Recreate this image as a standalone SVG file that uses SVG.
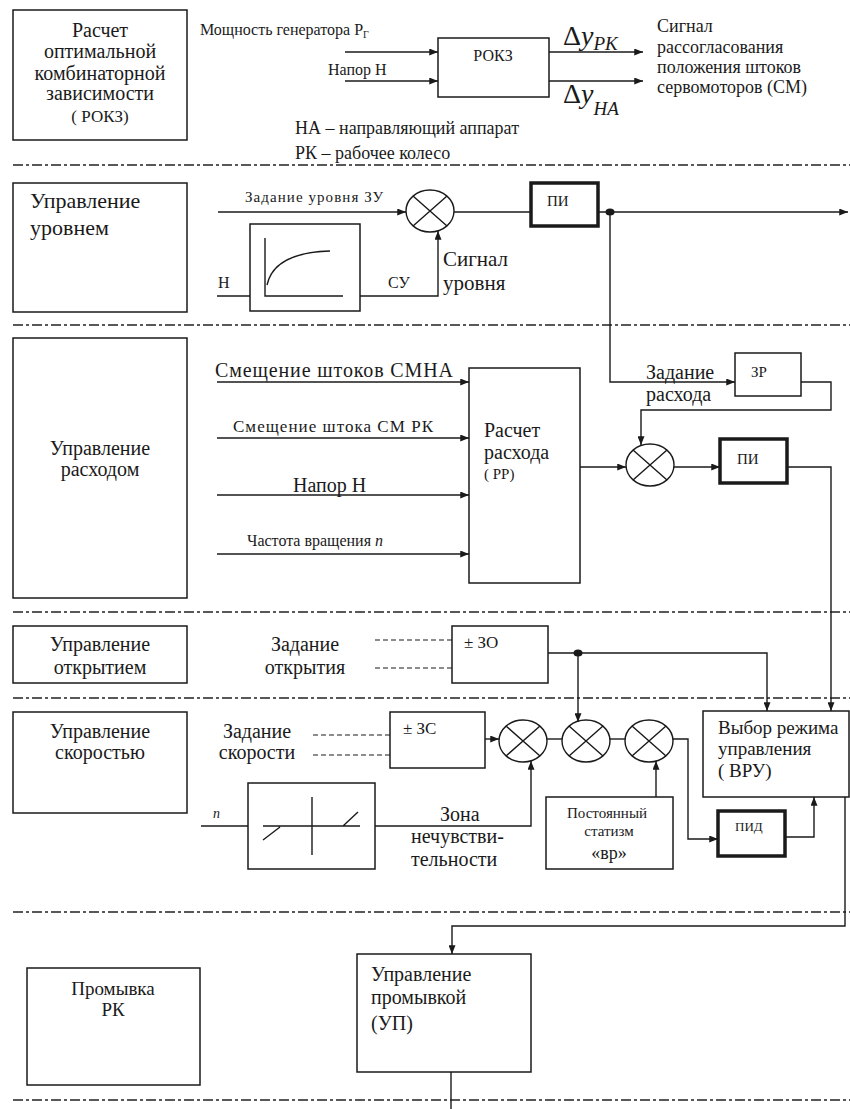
<svg xmlns="http://www.w3.org/2000/svg" width="850" height="1109" viewBox="0 0 850 1109">
  <style>
    text { font-family: "Liberation Serif", "Times New Roman", serif; fill: #1a1a1a; }
    .box { fill: none; stroke: #1a1a1a; stroke-width: 1.5; }
    .thick { fill: none; stroke: #1a1a1a; stroke-width: 3.5; }
    .ln { fill: none; stroke: #1a1a1a; stroke-width: 1.4; }
    .arr { fill: none; stroke: #1a1a1a; stroke-width: 1.4; marker-end: url(#ah); }
    .sep { fill: none; stroke: #222; stroke-width: 1.6; stroke-dasharray: 10 3 3 3; }
    .dash { fill: none; stroke: #1a1a1a; stroke-width: 1.2; stroke-dasharray: 5 3; }
    .sum { fill: #fff; stroke: #1a1a1a; stroke-width: 1.4; }
    .c { text-anchor: middle; }
  </style>
  <defs>
    <marker id="ah" viewBox="0 0 10 8" refX="10" refY="4" markerWidth="11" markerHeight="7" markerUnits="userSpaceOnUse" orient="auto">
      <path d="M0,0 L10,4 L0,8 z" fill="#1a1a1a"/>
    </marker>
    <!-- summing junction: ellipse with a diagonal cross -->
    <g id="sumj">
      <ellipse class="sum" cx="0" cy="0" rx="24" ry="21"/>
      <path class="ln" d="M-17,-15 L17,15 M17,-15 L-17,15"/>
    </g>
  </defs>
  <rect width="850" height="1109" fill="#fff"/>

  <!-- section separators -->
  <g id="separators">
    <line class="sep" x1="13" y1="165" x2="850" y2="165"/>
    <line class="sep" x1="13" y1="325" x2="850" y2="325"/>
    <line class="sep" x1="13" y1="612" x2="850" y2="612"/>
    <line class="sep" x1="13" y1="698" x2="850" y2="698"/>
    <line class="sep" x1="13" y1="912" x2="850" y2="912"/>
    <line class="sep" x1="13" y1="1100" x2="850" y2="1100"/>
  </g>

  <!-- ===== Section 1: optimal combinator dependency ===== -->
  <g id="rokz-title">
    <rect class="box" x="13" y="10" width="174" height="130"/>
    <text class="c" x="100" y="37" font-size="20">Расчет</text>
    <text class="c" x="100" y="58" font-size="20">оптимальной</text>
    <text class="c" x="100" y="80" font-size="20">комбинаторной</text>
    <text class="c" x="100" y="100" font-size="20">зависимости</text>
    <text class="c" x="100" y="122" font-size="17">( РОКЗ)</text>
  </g>
  <g id="rokz-inputs">
    <text x="200" y="35" font-size="16">Мощность генератора Р<tspan font-size="10" dy="3">Г</tspan></text>
    <text x="328" y="75" font-size="16">Напор Н</text>
  </g>
  <g id="rokz">
    <rect class="box" x="438" y="38" width="111" height="59"/>
    <text class="c" x="493" y="61" font-size="16">РОКЗ</text>
  </g>
  <g id="rokz-outputs">
    <text x="563" y="45" font-size="28">Δ<tspan font-style="italic">y</tspan><tspan font-size="19" font-style="italic" dy="5">РК</tspan></text>
    <text x="563" y="103" font-size="28">Δ<tspan font-style="italic">y</tspan><tspan font-size="19" font-style="italic" dy="12">НА</tspan></text>
    <text x="657" y="32" font-size="18">Сигнал</text>
    <text x="657" y="53" font-size="18">рассогласования</text>
    <text x="657" y="73" font-size="18">положения штоков</text>
    <text x="657" y="93" font-size="18">сервомоторов (СМ)</text>
  </g>
  <g id="legend">
    <text x="295" y="134" font-size="18">НА – направляющий аппарат</text>
    <text x="295" y="159" font-size="18">РК – рабочее колесо</text>
  </g>

  <!-- ===== Section 2: level control ===== -->
  <g id="level-title">
    <rect class="box" x="13" y="183" width="174" height="129"/>
    <text x="30" y="208" font-size="22">Управление</text>
    <text x="30" y="235" font-size="22">уровнем</text>
  </g>
  <g id="level-setpoint">
    <text x="245" y="202" font-size="15" textLength="138">Задание уровня ЗУ</text>
  </g>
  <g id="level-sum">
    <use href="#sumj" x="430" y="211"/>
  </g>
  <g id="level-curve">
    <text x="218" y="288" font-size="16">Н</text>
    <rect class="box" x="250" y="224" width="110" height="87"/>
    <path class="ln" d="M265,238 L265,296 L343,296"/>
    <path class="ln" d="M267,285 C272,262 295,252 330,251"/>
    <text x="388" y="288" font-size="16">СУ</text>
    <text x="443" y="266" font-size="21">Сигнал</text>
    <text x="443" y="290" font-size="21">уровня</text>
  </g>
  <g id="level-pi">
    <rect class="thick" x="531" y="183" width="67" height="43"/>
    <text x="547" y="206" font-size="15">ПИ</text>
  </g>

  <!-- ===== Section 3: flow control ===== -->
  <g id="flow-title">
    <rect class="box" x="13" y="338" width="174" height="260"/>
    <text class="c" x="100" y="455" font-size="20">Управление</text>
    <text class="c" x="100" y="476" font-size="20">расходом</text>
  </g>
  <g id="flow-inputs">
    <text x="215" y="377" font-size="20" textLength="238">Смещение штоков СМНА</text>
    <text x="233" y="432" font-size="17" textLength="200">Смещение штока СМ РК</text>
    <text x="293" y="492" font-size="20">Напор Н</text>
    <text x="247" y="546" font-size="16">Частота вращения <tspan font-style="italic">n</tspan></text>
  </g>
  <g id="rr">
    <rect class="box" x="469" y="368" width="111" height="215"/>
    <text x="484" y="437" font-size="20">Расчет</text>
    <text x="484" y="459" font-size="20">расхода</text>
    <text x="484" y="479" font-size="15">( РР)</text>
  </g>
  <g id="flow-setpoint">
    <text x="646" y="379" font-size="20">Задание</text>
    <text x="646" y="401" font-size="20">расхода</text>
  </g>
  <g id="zr">
    <rect class="box" x="735" y="353" width="66" height="43"/>
    <text x="751" y="377" font-size="15">ЗР</text>
  </g>
  <g id="flow-sum">
    <use href="#sumj" x="650" y="465"/>
  </g>
  <g id="flow-pi">
    <rect class="thick" x="720" y="439" width="67" height="44"/>
    <text x="737" y="464" font-size="15">ПИ</text>
  </g>

  <!-- ===== Section 4: opening control ===== -->
  <g id="open-title">
    <rect class="box" x="13" y="626" width="174" height="57"/>
    <text class="c" x="100" y="651" font-size="20">Управление</text>
    <text class="c" x="100" y="674" font-size="20">открытием</text>
  </g>
  <g id="open-setpoint">
    <text class="c" x="305" y="651" font-size="20">Задание</text>
    <text class="c" x="305" y="674" font-size="20">открытия</text>
  </g>
  <g id="zo">
    <rect class="box" x="452" y="626" width="96" height="57"/>
    <text x="464" y="648" font-size="17">± ЗО</text>
  </g>

  <!-- ===== Section 5: speed control ===== -->
  <g id="speed-title">
    <rect class="box" x="13" y="712" width="174" height="101"/>
    <text class="c" x="100" y="738" font-size="20">Управление</text>
    <text class="c" x="100" y="759" font-size="20">скоростью</text>
  </g>
  <g id="speed-setpoint">
    <text class="c" x="257" y="738" font-size="20">Задание</text>
    <text class="c" x="257" y="759" font-size="20">скорости</text>
  </g>
  <g id="zs">
    <rect class="box" x="390" y="712" width="95" height="56"/>
    <text x="403" y="734" font-size="17">± ЗС</text>
  </g>
  <g id="speed-sum-1"><use href="#sumj" x="523" y="741"/></g>
  <g id="speed-sum-2"><use href="#sumj" x="586" y="741"/></g>
  <g id="speed-sum-3"><use href="#sumj" x="649" y="741"/></g>
  <g id="deadzone">
    <text x="213" y="818" font-size="14" font-style="italic">n</text>
    <rect class="box" x="248" y="783" width="127" height="86"/>
    <path class="ln" d="M263,826 L360,826 M312,797 L312,855 M263,840 L280,827 M343,826 L358,812"/>
    <text x="440" y="821" font-size="20">Зона</text>
    <text x="411" y="843" font-size="20">нечувстви-</text>
    <text x="411" y="866" font-size="20">тельности</text>
  </g>
  <g id="statism">
    <rect class="box" x="546" y="797" width="127" height="72"/>
    <text class="c" x="607" y="818" font-size="15">Постоянный</text>
    <text class="c" x="609" y="836" font-size="15">статизм</text>
    <text class="c" x="609" y="859" font-size="18">«вр»</text>
  </g>
  <g id="pid">
    <rect class="thick" x="718" y="811" width="67" height="45"/>
    <text x="735" y="831" font-size="13">ПИД</text>
  </g>
  <g id="vru">
    <rect class="box" x="703" y="711" width="146" height="86"/>
    <text x="718" y="734" font-size="19">Выбор режима</text>
    <text x="718" y="755" font-size="19">управления</text>
    <text x="718" y="777" font-size="19">( ВРУ)</text>
  </g>

  <!-- ===== Section 6: runner flushing ===== -->
  <g id="flush-title">
    <rect class="box" x="27" y="968" width="173" height="117"/>
    <text class="c" x="113" y="995" font-size="19">Промывка</text>
    <text class="c" x="113" y="1016" font-size="19">РК</text>
  </g>
  <g id="up">
    <rect class="box" x="357" y="954" width="174" height="118"/>
    <text x="371" y="981" font-size="20">Управление</text>
    <text x="371" y="1004" font-size="20">промывкой</text>
    <text x="371" y="1030" font-size="20">(УП)</text>
  </g>

  <!-- connectors -->
  <g id="connectors">
    <!-- section 1 -->
    <line class="arr" x1="345" y1="52" x2="438" y2="52"/>
    <line class="arr" x1="345" y1="81" x2="438" y2="81"/>
    <line class="arr" x1="549" y1="52" x2="643" y2="52"/>
    <line class="arr" x1="549" y1="81" x2="643" y2="81"/>
    <!-- section 2 -->
    <line class="arr" x1="218" y1="212" x2="406" y2="212"/>
    <line class="ln" x1="454" y1="212" x2="531" y2="212"/>
    <line class="arr" x1="598" y1="212" x2="848" y2="212"/>
    <ellipse cx="610" cy="212" rx="4.5" ry="3.5" fill="#1a1a1a"/>
    <line class="ln" x1="217" y1="296" x2="250" y2="296"/>
    <path class="arr" d="M360,296 L438,296 L438,231"/>
    <!-- level output feeds the flow setpoint -->
    <path class="arr" d="M610,212 L610,382 L735,382"/>
    <!-- section 3 -->
    <line class="arr" x1="217" y1="382" x2="469" y2="382"/>
    <line class="arr" x1="217" y1="438" x2="469" y2="438"/>
    <line class="arr" x1="217" y1="495" x2="469" y2="495"/>
    <line class="arr" x1="217" y1="554" x2="469" y2="554"/>
    <path class="arr" d="M801,382 L831,382 L831,410 L641,410 L641,445"/>
    <line class="arr" x1="580" y1="467" x2="626" y2="467"/>
    <line class="arr" x1="674" y1="467" x2="720" y2="467"/>
    <path class="arr" d="M787,467 L831,467 L831,711"/>
    <!-- section 4 -->
    <line class="dash" x1="375" y1="640" x2="452" y2="640"/>
    <line class="dash" x1="375" y1="668" x2="452" y2="668"/>
    <path class="arr" d="M548,653 L767,653 L767,711"/>
    <ellipse cx="578" cy="653" rx="4.5" ry="3.5" fill="#1a1a1a"/>
    <line class="arr" x1="578" y1="653" x2="578" y2="722"/>
    <!-- section 5 -->
    <line class="dash" x1="313" y1="735" x2="390" y2="735"/>
    <line class="dash" x1="313" y1="755" x2="390" y2="755"/>
    <line class="arr" x1="485" y1="739" x2="499" y2="739"/>
    <line class="ln" x1="547" y1="739" x2="562" y2="739"/>
    <line class="ln" x1="610" y1="739" x2="625" y2="739"/>
    <line class="ln" x1="201" y1="826" x2="248" y2="826"/>
    <path class="arr" d="M375,826 L531,826 L531,761"/>
    <line class="arr" x1="656" y1="797" x2="656" y2="761"/>
    <path class="arr" d="M673,739 L688,739 L688,839 L718,839"/>
    <path class="arr" d="M785,837 L814,837 L814,797"/>
    <!-- section 6 -->
    <path class="arr" d="M845,797 L845,926 L452,926 L452,954"/>
    <line class="ln" x1="451" y1="1072" x2="451" y2="1109"/>
  </g>
</svg>
